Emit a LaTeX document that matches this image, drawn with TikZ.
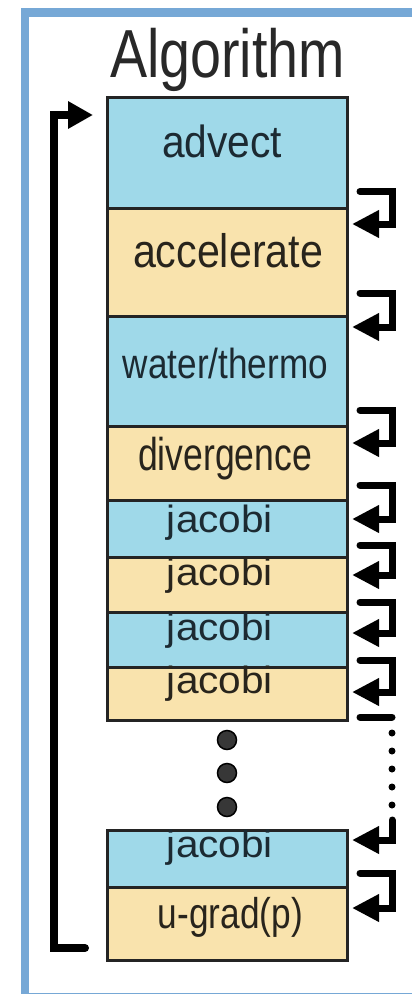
\documentclass[tikz,border=0pt]{standalone}
\usepackage{fontspec}
\setmainfont{Liberation Sans}
\usetikzlibrary{arrows.meta,calc}

\definecolor{framecol}{RGB}{118,168,214}
\definecolor{stepblue}{RGB}{159,217,233}
\definecolor{stepsand}{RGB}{249,227,173}
\definecolor{edgecol}{RGB}{36,36,36}
\definecolor{inkblue}{RGB}{28,42,50}
\definecolor{inksand}{RGB}{40,36,28}
\definecolor{titleink}{RGB}{40,40,40}
\definecolor{dotgray}{RGB}{55,55,55}

% text set at a given size and squeezed to a given width
\newcommand{\fitlabel}[3]{\resizebox{#1pt}{\height}{\fontsize{#2}{#2}\selectfont #3}}

\begin{document}
\begin{tikzpicture}[x=1pt,y=-1pt,
  stage/.style={draw=edgecol, line width=3pt, minimum width=240pt,
    inner sep=0pt, outer sep=0pt, anchor=north west},
  bluestage/.style={stage, fill=stepblue},
  sandstage/.style={stage, fill=stepsand},
  caption/.style={anchor=base, inner sep=0pt, outer sep=0pt},
  onblue/.style={caption, text=inkblue},
  onsand/.style={caption, text=inksand},
  flow/.style={draw=black, line width=7pt, line cap=round,
    -{Triangle[length=27pt,width=26pt]}},
  plainflow/.style={draw=black, line width=7pt, line cap=round},
  dottedflow/.style={draw=black, line width=7pt, line cap=round,
    dash pattern=on 0pt off 18pt},
  loopflow/.style={draw=black, line width=8pt, line cap=round,
    -{Triangle[length=25pt,width=26pt]}},
  ellipsisdot/.style={circle, fill=dotgray, draw=black, line width=1.5pt,
    minimum size=19pt, inner sep=0pt}
]
\useasboundingbox (0,0) rectangle (412,994);

% outer frame
\draw[framecol, line width=8.5pt] (25,12.5) rectangle (418,997.5);

% title
\node[caption, text=titleink] (title) at (227.5,77) {\fitlabel{235}{68}{Algorithm}};

% stages of one step
\node[bluestage, minimum height=111pt] (advect) at (107,97) {};
\node[sandstage, minimum height=108pt] (accel)  at (107,208) {};
\node[bluestage, minimum height=110pt] (water)  at (107,316) {};
\node[sandstage, minimum height=74pt]  (div)    at (107,426) {};
\node[bluestage, minimum height=57pt]  (jacA)   at (107,500) {};
\node[sandstage, minimum height=55pt]  (jacB)   at (107,557) {};
\node[bluestage, minimum height=55pt]  (jacC)   at (107,612) {};
\node[sandstage, minimum height=53pt]  (jacD)   at (107,667) {};
\node[bluestage, minimum height=57pt]  (jacN)   at (107,830) {};
\node[sandstage, minimum height=73pt]  (ugrad)  at (107,887) {};

% stage labels
\node[onblue] (tAdvect) at (222,157)   {\fitlabel{120}{45}{advect}};
\node[onsand] (tAccel)  at (228,267)   {\fitlabel{190}{47}{accelerate}};
\node[onblue] (tWater)  at (225.5,378) {\fitlabel{205}{42}{water/thermo}};
\node[onsand] (tDiv)    at (225,470)   {\fitlabel{174}{46}{divergence}};
\node[onblue] (tJacA)   at (220,532)   {\fitlabel{106}{38}{jacobi}};
\node[onsand] (tJacB)   at (220,585)   {\fitlabel{106}{38}{jacobi}};
\node[onblue] (tJacC)   at (220,640)   {\fitlabel{106}{38}{jacobi}};
\node[onsand] (tJacD)   at (220,693)   {\fitlabel{106}{38}{jacobi}};
\node[onblue] (tJacN)   at (220,857)   {\fitlabel{106}{38}{jacobi}};
\node[onsand] (tUgrad)  at (230.5,928) {\fitlabel{145}{43}{u-grad(p)}};

% elided iterations
\node[ellipsisdot] (dotA) at (227,740) {};
\node[ellipsisdot] (dotB) at (227,773) {};
\node[ellipsisdot] (dotC) at (227,807) {};

% hand-off arrows on the right
\draw[flow] ([xshift=13pt,yshift=16.5pt]advect.south east) -| ([xshift=45pt,yshift=-16pt]accel.north east) -- ([xshift=5pt,yshift=-16pt]accel.north east);
\draw[flow] ([xshift=13pt,yshift=23pt]accel.south east) -| ([xshift=45pt,yshift=-11pt]water.north east) -- ([xshift=5pt,yshift=-11pt]water.north east);
\draw[flow] ([xshift=13pt,yshift=16pt]water.south east) -| ([xshift=45pt,yshift=-17pt]div.north east) -- ([xshift=5pt,yshift=-17pt]div.north east);
\draw[flow] ([xshift=13pt,yshift=15pt]div.south east) -| ([xshift=45pt,yshift=-19pt]jacA.north east) -- ([xshift=5pt,yshift=-19pt]jacA.north east);
\draw[flow] ([xshift=13pt,yshift=12pt]jacA.south east) -| ([xshift=45pt,yshift=-18pt]jacB.north east) -- ([xshift=5pt,yshift=-18pt]jacB.north east);
\draw[flow] ([xshift=13pt,yshift=10pt]jacB.south east) -| ([xshift=45pt,yshift=-21pt]jacC.north east) -- ([xshift=5pt,yshift=-21pt]jacC.north east);
\draw[flow] ([xshift=13pt,yshift=7pt]jacC.south east) -| ([xshift=45pt,yshift=-25pt]jacD.north east) -- ([xshift=5pt,yshift=-25pt]jacD.north east);

% the arrow across the elided iterations
\coordinate (gapStart) at ([xshift=13pt,yshift=3pt]jacD.south east);
\coordinate (gapCorner) at ([xshift=45pt,yshift=3pt]jacD.south east);
\coordinate (gapDotsTop) at ([xshift=45pt,yshift=-13pt]jacD.south east);
\coordinate (gapDotsEnd) at ([xshift=45pt,yshift=25pt]jacN.north east);
\coordinate (gapSolid) at ([xshift=45pt,yshift=10pt]jacN.north east);
\draw[plainflow] (gapStart) -- (gapCorner);
\draw[dottedflow] (gapDotsTop) -- (gapDotsEnd);
\draw[flow] (gapSolid) |- ([xshift=5pt,yshift=-10pt]jacN.north east);

\draw[flow] ([xshift=13pt,yshift=14pt]jacN.south east) -| ([xshift=45pt,yshift=-21pt]ugrad.north east) -- ([xshift=5pt,yshift=-21pt]ugrad.north east);

% loop back to the start of the next step
\draw[loopflow] ([xshift=-22pt,yshift=12pt]ugrad.south west) -- ++(-31,0) |- ([xshift=-14pt,yshift=-18pt]advect.north west);
\end{tikzpicture}
\end{document}
